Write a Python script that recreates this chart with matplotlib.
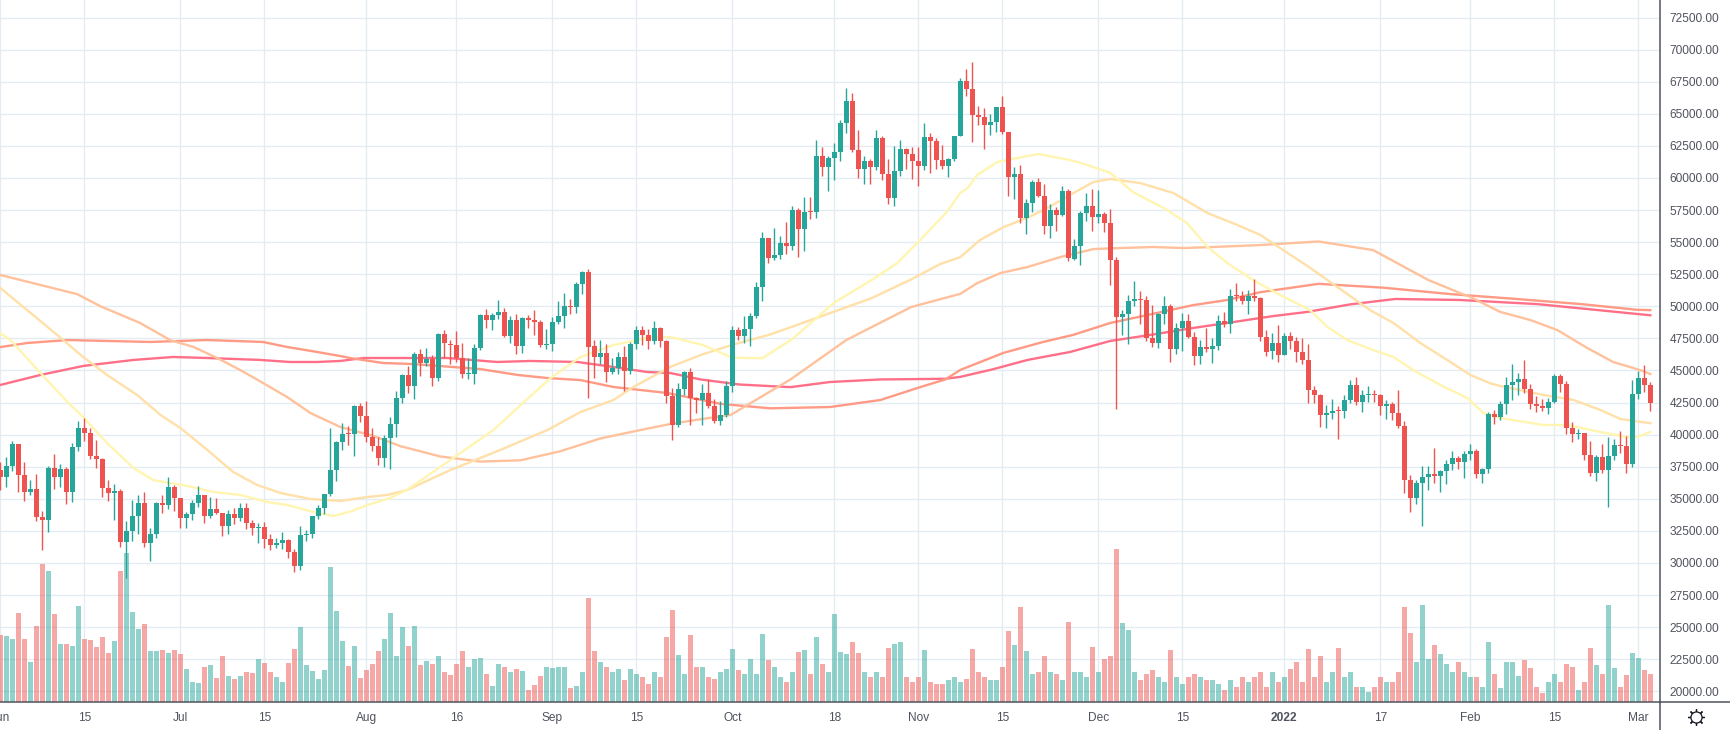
import matplotlib
matplotlib.use("Agg")
import matplotlib.pyplot as plt
import numpy as np

plt.rcParams['font.family'] = ['Liberation Sans', 'DejaVu Sans']

# Daily candles, 1 Jun 2021 .. 3 Mar 2022 (day 0 = 1 Jun)
opens = [
 37254,36694,37568,39242,36830,35520,35796,33556,33380,37388,36677,37331,35546,39020,40516,40143,38349,38092,35820,35484,35601,31614,32510,33676,34663,31577,32283,34703,34494,35911,
 35045,33503,33787,34669,35288,33690,34220,33863,32875,33815,33502,34259,33086,32729,32820,31874,31384,31520,31778,30839,29790,32144,32287,33634,34261,35381,37241,39456,40019,40018,42206,
 41461,39850,39146,38208,39744,40865,42832,44614,43794,46280,45543,45881,44429,47836,47099,47019,45937,44686,44741,46760,49340,48906,49322,49546,47707,48952,46894,49072,48897,48768,46970,
 47100,48810,49246,49998,49917,51757,52666,46869,46048,46396,44842,45160,46063,44963,47093,48177,47783,47268,48279,47261,43011,40719,43560,44897,42839,42716,43208,42235,41034,41565,
 43820,48142,47657,48233,49244,51494,55339,53798,53965,54963,54690,57485,56005,57367,57348,61672,60875,61528,62005,64281,66002,62193,60688,61286,60853,63083,60328,58413,60575,62253,61859,
 61299,60911,63220,62896,61396,60940,61470,63274,67525,66947,64883,64774,64122,64380,65519,63606,60059,60344,56892,58052,59707,58623,56247,57541,57138,58960,53723,54716,57274,57777,
 56950,57185,56484,53602,49153,49397,50441,50590,50471,47535,47149,49389,50053,46702,48336,48864,47632,46134,46835,46681,46914,48887,48588,50838,50820,50429,50809,50679,47623,46491,47120,
 46216,47722,47287,46446,45833,43451,43082,41566,41679,41865,41822,42729,43902,42560,43059,43084,43071,42201,42352,41660,40680,36445,35071,36244,36660,36958,36809,37160,37716,38166,37881,
 38466,38694,36896,37311,41575,41382,42380,43840,44118,44339,43565,42407,42244,42064,42535,44575,43961,40538,40031,40122,38431,37017,38242,37231,38327,39219,39116,37699,
 43160,44421,43892]
highs = [
 37894,38225,39476,39290,37860,36480,36900,34068,37534,38491,37690,37451,39380,41064,41330,40527,39559,38200,36457,36137,35750,33298,34881,35298,35500,32700,34749,35297,36675,36100,
 35057,33977,34945,35967,35293,35118,35059,33929,34100,34262,34666,34679,33340,33114,33185,32249,31935,32435,31899,31063,32858,32591,33650,34500,35398,40550,39542,40900,40640,42316,42448,
 42599,40480,39780,39969,41350,43392,44700,45310,46454,46700,46743,46217,47886,48144,47372,48053,47160,45985,47033,49382,49757,49500,50500,49860,49250,49365,49188,49300,49673,48900,48246,
 49156,50450,51000,50558,51900,52780,52920,47340,47399,47031,45987,46460,46876,47250,48500,48487,48200,48843,48372,47347,43639,44000,44978,45200,42964,43937,44350,42787,42590,44141,
 48495,48360,49228,49500,51886,55750,55338,56100,55500,56561,57839,57679,58532,58500,62933,62378,61718,62696,64486,67000,66639,63732,61747,61500,63710,63293,61496,62499,62980,62359,62405,
 62437,64270,63500,63086,62600,61560,63286,67789,68524,69000,65600,65450,65000,65550,66401,63617,60823,60977,58373,59845,60029,59490,57965,57700,59398,59150,55280,57445,58865,59176,
 59053,57374,57600,53859,49700,50890,51936,51200,50797,50125,49485,50797,50189,48700,49500,49436,47995,47392,48300,47537,49328,49576,51375,51810,51156,51280,52088,50704,48139,47900,48548,
 47954,47990,47570,47557,47070,43816,43145,42300,42786,42248,43100,44278,44500,43448,43800,43475,43176,42691,42559,43505,41100,36835,36499,37550,37545,38919,37234,38000,38720,38359,38744,
 39265,38855,37387,41772,41913,42656,44500,45492,44798,45821,43920,43025,42760,42876,44751,44750,44164,40959,40444,40133,39494,38429,39249,39843,39683,40300,39855,44225,
 44949,45400,44101]
lows = [
 35666,35920,37170,35555,34800,35257,33300,31000,32396,35782,35936,34600,34757,38730,39506,38116,37365,35129,34803,33336,31251,28805,31683,32286,31275,30151,31973,33862,34231,34017,
 32711,32699,33316,34357,33125,33532,33777,32077,32261,33004,33306,32658,32202,31550,31133,31020,31164,31108,30407,29278,29482,31708,31924,33401,33851,35205,36383,38772,39200,38313,41000,
 39422,38690,37642,37508,37332,39853,42450,43261,42779,44569,45341,43770,44217,45971,45500,45660,44376,44364,43927,46622,48272,48120,49028,47600,47122,46315,46371,48345,47768,46853,46700,
 46512,48584,48316,49370,49450,50969,42843,44412,45513,44132,44722,44742,43370,44750,46682,47022,46700,47050,46829,42500,39600,40570,43069,40750,41675,40750,42111,40888,40753,41410,
 43283,47400,47120,46891,49057,50382,53357,53617,53661,54080,54415,53879,54300,56818,56850,60150,58963,59847,61322,63481,62000,60000,59562,59510,60650,59817,58000,57820,60174,60673,59944,
 59405,60624,60382,60677,60721,60050,61322,63273,66382,62822,64100,62278,63360,63576,63400,58574,58373,56474,55600,57353,58486,55610,55317,55837,57000,53500,53610,53256,56666,55875,
 56458,55777,51680,42000,47727,47100,50039,48600,47320,46852,46751,48600,45672,46290,46547,47511,45456,45500,46406,45558,46630,48421,47920,50384,50190,49412,50449,47313,46096,45900,45678,
 46208,46654,45696,45500,42500,42430,40610,40501,41200,39650,41268,42447,42311,41725,42566,42581,41540,41250,41138,40553,35440,34008,34601,32917,35701,36234,35507,36155,37268,37351,36632,
 38000,36586,36250,37026,40843,41116,41645,42666,43117,43216,42000,41748,41870,41570,42427,43307,40073,39450,39639,38020,36800,36350,37036,34322,38014,38600,37000,37450,
 42809,43334,41832]
closes = [
 36693,37568,39246,36829,35520,35796,33552,33380,37388,36675,37331,35546,39020,40516,40144,38349,38092,35820,35483,35600,31608,32509,33678,34663,31584,32283,34700,34494,35911,35045,
 33504,33786,34669,35287,33690,34220,33862,32875,33815,33502,34259,33086,32729,32820,31880,31383,31520,31778,30839,29790,32144,32287,33634,34258,35381,37237,39457,40019,40016,42206,41461,
 39845,39147,38207,39723,40862,42836,44614,43792,46285,45543,45880,44428,47837,47108,47018,45936,44686,44741,46760,49339,48905,49321,49546,47706,48952,46894,49072,48896,48767,46971,47100,
 48810,49246,49998,49915,51756,52663,46864,46049,46395,44843,45161,46063,44963,47092,48177,47783,47267,48278,47260,43012,40719,43575,44897,42839,42716,43208,42235,41034,41564,43790,
 48165,47657,48233,49245,51493,55339,53797,53963,54963,54691,57484,56005,57367,57347,61672,60875,61528,62009,64280,66002,62193,60688,61286,60852,63083,60328,58413,60575,62253,61859,61299,
 60911,63219,62896,61395,60937,61470,63273,67525,66947,64882,64774,64122,64380,65519,63606,60058,60344,56891,58052,59707,58623,56247,57541,57138,58960,53726,54721,57274,57776,56950,
 57184,56480,53601,49152,49396,50441,50589,50471,47545,47140,49389,50053,46702,48343,48864,47632,46131,46834,46681,46914,48889,48588,50839,50821,50429,50809,50640,47588,46471,47123,46216,
 47722,47286,46446,45832,43451,43082,41566,41679,41864,41822,42729,43902,42560,43059,43084,43072,42201,42352,41660,40680,36445,35071,36244,36660,36958,36809,37160,37716,38166,37881,38466,
 38694,36896,37311,41575,41382,42380,43840,44118,44339,43565,42407,42244,42064,42535,44575,43961,40538,40031,40122,38431,37017,38242,37231,38327,39219,39116,37699,43160,
 44421,43892,42454]
volumes = [
 67,66,63,89,63,40,76,138,131,88,58,58,56,96,63,62,55,65,49,61,131,149,90,73,78,51,51,52,49,52,
 48,33,20,19,35,37,24,46,26,23,26,30,29,43,39,30,25,20,39,53,75,37,31,23,32,135,91,61,36,56,24,
 32,38,51,63,89,46,75,56,76,37,41,38,46,30,27,38,51,35,43,44,28,16,38,35,30,33,31,12,17,26,35,
 34,35,35,14,16,30,104,51,40,35,30,33,22,33,28,25,18,30,25,65,92,47,28,67,35,35,25,23,30,33,
 53,32,28,43,28,68,42,35,25,20,30,50,52,28,65,38,30,88,50,48,60,49,30,25,30,25,54,58,60,25,20,
 25,52,20,18,18,22,25,20,23,53,30,25,22,22,35,71,57,95,51,28,30,46,30,28,22,80,30,30,25,55,30,
 43,46,153,79,72,30,22,28,32,25,20,52,25,18,25,28,25,22,22,18,12,22,15,25,20,25,30,15,30,20,25,
 33,40,20,53,25,46,20,30,54,25,30,15,15,10,15,25,20,20,30,95,69,40,97,43,57,48,38,30,40,30,
 25,25,15,60,28,14,40,40,26,42,34,15,9,20,28,20,38,35,12,20,54,37,28,97,34,15,27,49,
 44,32,28]

# Moving averages, read at sample days
ma1_days = [0,1.7,6.7,11.2,13.8,17.8,22.2,25.5,31.2,35.5,40,44.5,47.8,52.2,55.5,58.3,61.2,65,67.8,75,82.2,86.7,91.7,96.7,102.2,107.8,111.7,117,122,127,132,139,145.3,149.5,153,157.8,160,161.2,162.8,166.2,173,178.3,181.2,185,188.8,194.5,197.8,201.2,204.5,208.8,213.3,218.3,221.2,224.5,228.8,232.2,235.5,240,244.5,247.2,250,257.2,261.2,266.7,271.2,272.8,275]
ma1_vals = [47900,47370,44800,42540,41370,39345,37400,36460,36000,35530,35300,34750,34520,33970,33660,34000,34520,35070,35700,38020,40360,42300,44400,46050,46980,47530,47600,47000,46000,45950,47450,50290,52070,53370,55020,57370,58830,59200,60230,61250,61870,61400,61010,60390,58900,57500,56480,54620,53370,52050,50880,49700,48380,47370,46590,46050,45030,43870,42850,41690,41300,40750,40750,40200,39810,39810,40200]
ma2_days = [0,5,10.5,13.8,17.8,22.8,26.7,30,34.5,38.8,42.8,46.7,51.7,56.7,61.2,64.5,67.8,75,83.3,91.2,96.7,102.2,105.5,111.7,116.7,122,128.3,136.7,145.3,151.7,156.7,160,163.3,167.2,171.2,174.5,178.3,182.2,185,190,195.5,201.2,206.2,210,218.3,223.3,228.3,232.2,236.7,241.2,245,248.3,250,257.2,262.2,266.7,270,273.3,275]
ma2_vals = [51430,49500,47370,46050,44650,43090,41530,40520,38810,37090,36080,35450,34980,34830,35140,35300,35680,37240,38800,40360,41760,42700,43710,45280,46200,47000,47800,49200,50650,52070,53300,53830,55170,56170,56900,57650,58680,59690,59920,59600,58830,57270,56330,55560,53000,51350,49700,48700,47130,45800,44650,44000,43790,43090,42700,41920,41220,41000,40900]
ma3_days = [0,5.5,12.8,16.7,23.3,28.3,32.2,36.2,40,43.8,47.8,51.7,56.7,62.2,66.7,73.3,80,86.7,93.3,100,106.7,111.7,116.7,121.7,131.7,141,151.8,160,162.8,166.7,171.2,176.7,182.2,186.7,192.2,197.2,202.2,210,219.7,228.8,238,243.3,245,250,255,259.5,264.5,268.8,273.3,275]
ma3_vals = [52440,51800,50950,50000,48700,47370,46830,45960,45030,44020,42930,41680,40590,39900,39100,38300,37900,38000,38700,39700,40360,40830,41200,41530,44300,47370,49940,50970,51800,52590,53060,53840,54460,54540,54620,54540,54620,54770,55050,54380,52050,51030,50730,49560,48930,48150,46750,45660,45030,44720]
ma4_days = [0,4.5,11.2,25,34.5,43.8,47.8,52.8,56.7,58.3,63.8,68.8,80,86.2,91.2,96.7,102.2,111.2,120,128.3,138.3,146.7,153.3,157.5,160,167.2,173.8,178.8,185,191.2,198.8,204.5,210,219.7,230.5,241.7,252.7,263.5,272.7,275]
ma4_vals = [46820,47140,47370,47220,47370,47220,46830,46440,46120,45970,45580,45500,45110,44650,44410,44250,43710,43240,42400,42050,42150,42700,43700,44300,45040,46370,47220,47770,48700,49320,50090,50490,51100,51750,51450,50950,50570,50170,49730,49700]
ma5_days = [0,6.7,13.8,22.2,28.8,34.5,43.3,48.3,52.8,56.7,60.5,67.8,74.5,82.8,88.3,96.2,102.2,107.8,111.7,116.7,123.3,131.7,138.3,146.7,157.5,160,165.5,171.2,178.3,185,191.7,198.8,204.5,210,212.2,217.8,225,232.5,243.3,256.2,275]
ma5_vals = [43870,44650,45350,45820,46050,45970,45820,45660,45660,45740,45970,45970,45970,45660,45740,45660,45270,44880,44800,44300,43900,43700,44100,44300,44350,44500,45100,45820,46440,47300,47770,48310,48700,49090,49240,49560,50150,50570,50490,50170,49300]

date_ticks = [0,14,30,44,61,76,92,106,122,139,153,167,183,197,214,230,245,259,273]
date_labels = ["Jun","15","Jul","15","Aug","16","Sep","15","Oct","18","Nov","15","Dec","15","2022","17","Feb","15","Mar"]
price_ticks = list(range(20000, 72501, 2500))
price_labels = [f"{p:.2f}" for p in price_ticks]

UP, DOWN = '#26a69a', '#ef5350'
GRID, AXC, TXT = '#e3ecf2', '#50535e', '#50535e'
W, H = 1730, 730
PLOT_W, PLOT_H = 1660, 702
PRICE_PER_PX = 77.92

fig = plt.figure(figsize=(W/100, H/100), dpi=100, facecolor='white')
ax = fig.add_axes([0, (H-PLOT_H)/H, PLOT_W/W, PLOT_H/H])

n = len(closes)
assert len(opens) == n and len(highs) == n and len(lows) == n and len(volumes) == n
days = np.arange(n)
o, h, l, c = map(np.array, (opens, highs, lows, closes))
v = np.array(volumes, float)
up = c >= o
colors = np.where(up, UP, DOWN)

ymin = 20000 - (PLOT_H - 691.3) * PRICE_PER_PX
ymax = ymin + PLOT_H * PRICE_PER_PX
ax.set_ylim(ymin, ymax)
ax.set_xlim(-0.05, -0.05 + PLOT_W/6)

ax.set_axisbelow(True)
ax.grid(True, color=GRID, lw=0.95)

# volume
ax.bar(days, v * PRICE_PER_PX, bottom=ymin, width=0.83, color=list(colors), alpha=0.5, lw=0, zorder=1.5)

# moving averages
for dd, vv, col in [(ma5_days, ma5_vals, '#ff7088'), (ma4_days, ma4_vals, '#ff9a85'),
                    (ma3_days, ma3_vals, '#ffc19c'), (ma2_days, ma2_vals, '#ffe0a8'),
                    (ma1_days, ma1_vals, '#fff5b0')]:
    ax.plot(dd, vv, color=col, lw=1.7, solid_joinstyle='round', zorder=2)

# candles
ax.vlines(days, l, h, colors=list(colors), lw=1.0, zorder=3)
bot = np.minimum(o, c)
ht = np.maximum(np.abs(c - o), PRICE_PER_PX * 1.0)
ax.bar(days, ht, bottom=bot, width=0.83, color=list(colors), lw=0, zorder=3.5)

ax.set_xticks(date_ticks)
ax.set_xticklabels(date_labels)
ax.set_yticks(price_ticks)
ax.set_yticklabels(price_labels)
ax.yaxis.tick_right()
ax.tick_params(axis='both', length=0, labelsize=8.6, colors=TXT)
ax.tick_params(axis='x', pad=7)
ax.tick_params(axis='y', pad=7)
for lab in ax.get_xticklabels():
    if lab.get_text() == "2022":
        lab.set_fontweight('bold')

for s in ('top', 'left'):
    ax.spines[s].set_visible(False)
for s in ('right', 'bottom'):
    ax.spines[s].set_color(AXC)
    ax.spines[s].set_linewidth(1.1)
ax.spines['right'].set_zorder(10)

# divider below the price axis and settings icon
overlay = fig.add_axes([0, 0, 1, 1], facecolor='none')
overlay.set_xlim(0, W); overlay.set_ylim(H, 0); overlay.axis('off')
overlay.plot([PLOT_W, PLOT_W], [PLOT_H, H], color=AXC, lw=1.1, clip_on=False)
overlay.plot([PLOT_W, W], [PLOT_H, PLOT_H], color=AXC, lw=1.1, clip_on=False)
overlay.plot([1695.7], [716.5], marker=(8, 2, 0), ms=12, mew=0.9, color='#131722')
overlay.plot([1695.7], [716.5], marker='o', ms=8, mfc='white', mec='#131722', mew=0.9)

fig.savefig('out.png', dpi=100, facecolor='white')
